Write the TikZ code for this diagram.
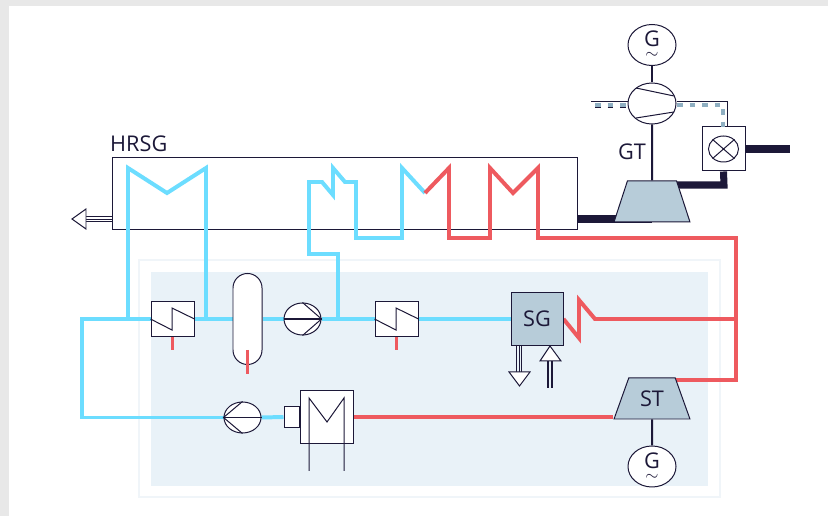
\documentclass[tikz,border=0pt]{standalone}
\usepackage{fontspec}
\setmainfont{Open Sans}
\usetikzlibrary{backgrounds}
\usetikzlibrary{shapes.geometric}
\definecolor{inkdark}{HTML}{1C1838}
\definecolor{waterblue}{HTML}{6CDDFF}
\definecolor{steamred}{HTML}{EE5A5F}
\definecolor{steelfill}{HTML}{B7CCD9}
\definecolor{steeldash}{HTML}{8FAFC2}
\definecolor{panelfill}{HTML}{E9F2F8}
\definecolor{panelline}{HTML}{F0F5F9}
\definecolor{shadowgray}{HTML}{E8E8E8}
\newcommand{\genlabel}{G\\[-10pt]{\fontsize{14}{14}\selectfont$\sim$}}
\tikzset{
  water/.style={draw=waterblue,line width=3.4pt},
  steam/.style={draw=steamred,line width=3.4pt},
  shaft/.style={draw=inkdark,line width=1.7pt},
  flue/.style={draw=inkdark,line width=6pt},
  thinline/.style={draw=inkdark,line width=0.85pt},
  plate/.style={text=inkdark,font=\fontsize{18.5}{20}\selectfont,inner sep=0pt},
  unit/.style={thinline,fill=white,rectangle,inner sep=0pt},
  machine/.style={thinline,fill=white,ellipse,inner sep=0pt},
  generator/.style={machine,plate,align=center,minimum width=1.44cm,minimum height=1.23cm},
  turbine/.style={thinline,fill=steelfill,trapezium,trapezium stretches=true,trapezium angle=64.6,
    minimum width=2.28cm,minimum height=1.23cm,plate},
  airdash/.style={line width=3pt,dash pattern=on 4.7pt off 6pt},
}
\begin{document}
\begin{tikzpicture}[x=0.03cm,y=-0.03cm]
          \useasboundingbox (0,0) rectangle (828,516);

          \begin{scope}[on background layer]
            \fill[shadowgray] (0,0) rectangle (828,516);
            \fill[white] (9,6) rectangle (828,516);
          \end{scope}

          % equipment
          \foreach \name/\cx in {hxa/172.5,hxb/396.5} {
            \node[unit,minimum width=1.29cm,minimum height=1.02cm] (\name) at (\cx,319) {};
            \draw[thinline] (\name.west) -- ++(21.5,11) -- ++(0,-22) -- (\name.east);
          }
          \node[unit,rounded corners=0.435cm,minimum width=0.87cm,minimum height=2.73cm] (drum) at (247.5,319) {};
          \node[machine,minimum width=1.11cm,minimum height=0.96cm] (pumpa) at (302.5,319) {};
          \draw[shaft] (pumpa.west) -- (pumpa.east);
          \draw[thinline] (pumpa.north) -- (pumpa.east) -- (pumpa.south);
          \node[machine,minimum width=1.11cm,minimum height=0.93cm] (pumpb) at (242.5,417.5) {};
          \draw[shaft] (pumpb.west) -- (pumpb.east);
          \draw[thinline] (pumpb.north) -- (pumpb.west) -- (pumpb.south);

          \node[unit,fill=steelfill,minimum width=1.56cm,minimum height=1.56cm,plate] (sg) at (537,319) {SG};
          \node[unit,minimum width=1.59cm,minimum height=1.56cm] (cond) at (326.5,417) {};
          \node[unit,minimum width=0.45cm,minimum height=0.63cm,anchor=east] (hotwell) at (cond.west) {};
          \draw[thinline] (309,471) -- (309,398) -- (327,422) -- (344,398) -- (344,471);

          \node[turbine] (st) at (652,398.5) {ST};
          \node[generator] (gena) at (652,466.5) {\genlabel};
          \draw[shaft] (st.south) -- (gena.north);

          \node[turbine] (gt) at (652,201.5) {\phantom{GT}};
          \node[machine,minimum width=1.44cm,minimum height=1.23cm] (comp) at (652,103.5) {};
          \draw[thinline] (636,88) -- (674,96) (636,118) -- (674,112);
          \node[generator] (genb) at (652,45) {\genlabel};
          \draw[shaft] (genb.south) -- (comp.north);
          \draw[shaft] (comp.south) -- (gt.north);
          \node[plate] (gtlabel) at (632,152) {GT};

          \node[unit,minimum width=1.29cm,minimum height=1.32cm] (comb) at (723.5,149) {};
          \node[machine,minimum width=0.9cm,minimum height=0.78cm] (flame) at (comb.center) {};
          \draw[thinline] (flame.north west) -- (flame.south east) (flame.north east) -- (flame.south west);
          \coordinate (stack) at (790,149);

          \begin{scope}[on background layer]
            \node[rectangle,draw=panelline,fill=white,line width=1pt,minimum width=17.43cm,minimum height=7.11cm] (outer) at (429.5,378.5) {};
            \node[rectangle,fill=panelfill,minimum width=16.71cm,minimum height=6.42cm] (inner) at (429.5,379) {};
            \node[unit,line width=0.7pt,minimum width=13.95cm,minimum height=2.16cm] (hrsg) at (344.5,193) {};

            \draw[flue] (comb.east) -- (stack);
            \draw[flue] (comb.south) -- (724,185) -- (gt.north |- 0,185);
            \draw[flue] (hrsg.east |- 0,219) -- (gt.south |- 0,219);

            % water side
            \draw[water] (pumpb.west) -- (82,417.5) -- (82,319) -- (hxa.west);
            \draw[water] (hotwell.west) -- (pumpb.east);
            \draw[water] (hxa.east) -- (drum.west);
            \draw[water] (drum.east) -- (pumpa.west);
            \draw[water] (pumpa.east) -- (hxb.west);
            \draw[water] (hxb.east) -- (sg.west);
            \draw[water] (128,319) -- (128,168) -- (167,193) -- (206,168) -- (206,319);
            \draw[water] (338,319) -- (338,254) -- (309,254) -- (309,182) -- (322,182) -- (333,195)
              -- (333,168) -- (345,182) -- (356,182) -- (356,238) -- (402,238) -- (402,168) -- (425,193);

            % steam side
            \draw[steam] (425,193) -- (449,168) -- (449,238) -- (490,238) -- (490,168) -- (513,193)
              -- (538,168) -- (538,238) -- (736,238) -- (736,380) -- (st.top right corner |- 0,380);
            \draw[steam] (736,319) -- (595,319) -- (579,300) -- (579,338) -- (sg.east);
            \draw[steam] (cond.east) -- (st.bottom left corner |- cond.east);
            \draw[steam] (hxa.south) -- (172.5,350);
            \draw[steam] (hxb.south) -- (396.5,350);
          \end{scope}
          \draw[steam] (247.5,350) -- (247.5,374);

          % air lines
          \draw[thinline] (591,102) -- (comp.west |- 0,102);
          \draw[draw=steeldash,airdash] (595,105) -- (628,105);
          \draw[draw=inkdark,line width=1pt,dash pattern=on 4.7pt off 6pt] (595,107.5) -- (628,107.5);
          \draw[thinline] (comp.east |- 0,102) -- (727,102) -- (727,127);
          \draw[draw=steeldash,airdash] (677,105) -- (723,105) -- (723,127);

          % gas and heat arrows
          \foreach \dy in {216.5,219,221.5} {
            \draw[thinline,line width=0.7pt] (hrsg.west |- 0,\dy) -- (86,\dy);
          }
          \draw[thinline,fill=white] (86,209) -- (72,219) -- (86,229) -- cycle;
          \foreach \dx in {516.5,519,521.5} {
            \draw[thinline,line width=0.7pt] (\dx,345) -- (\dx,372);
          }
          \draw[thinline,fill=white] (509,372) -- (530,372) -- (519.5,386) -- cycle;
          \foreach \dx in {548,552} {
            \draw[thinline,line width=1.3pt] (\dx,361) -- (\dx,388);
          }
          \draw[thinline,fill=white] (540,361) -- (561,361) -- (550,346) -- cycle;

          \node[plate,anchor=south west] (hrsglabel) at (110,152) {HRSG};
\end{tikzpicture}
\end{document}
